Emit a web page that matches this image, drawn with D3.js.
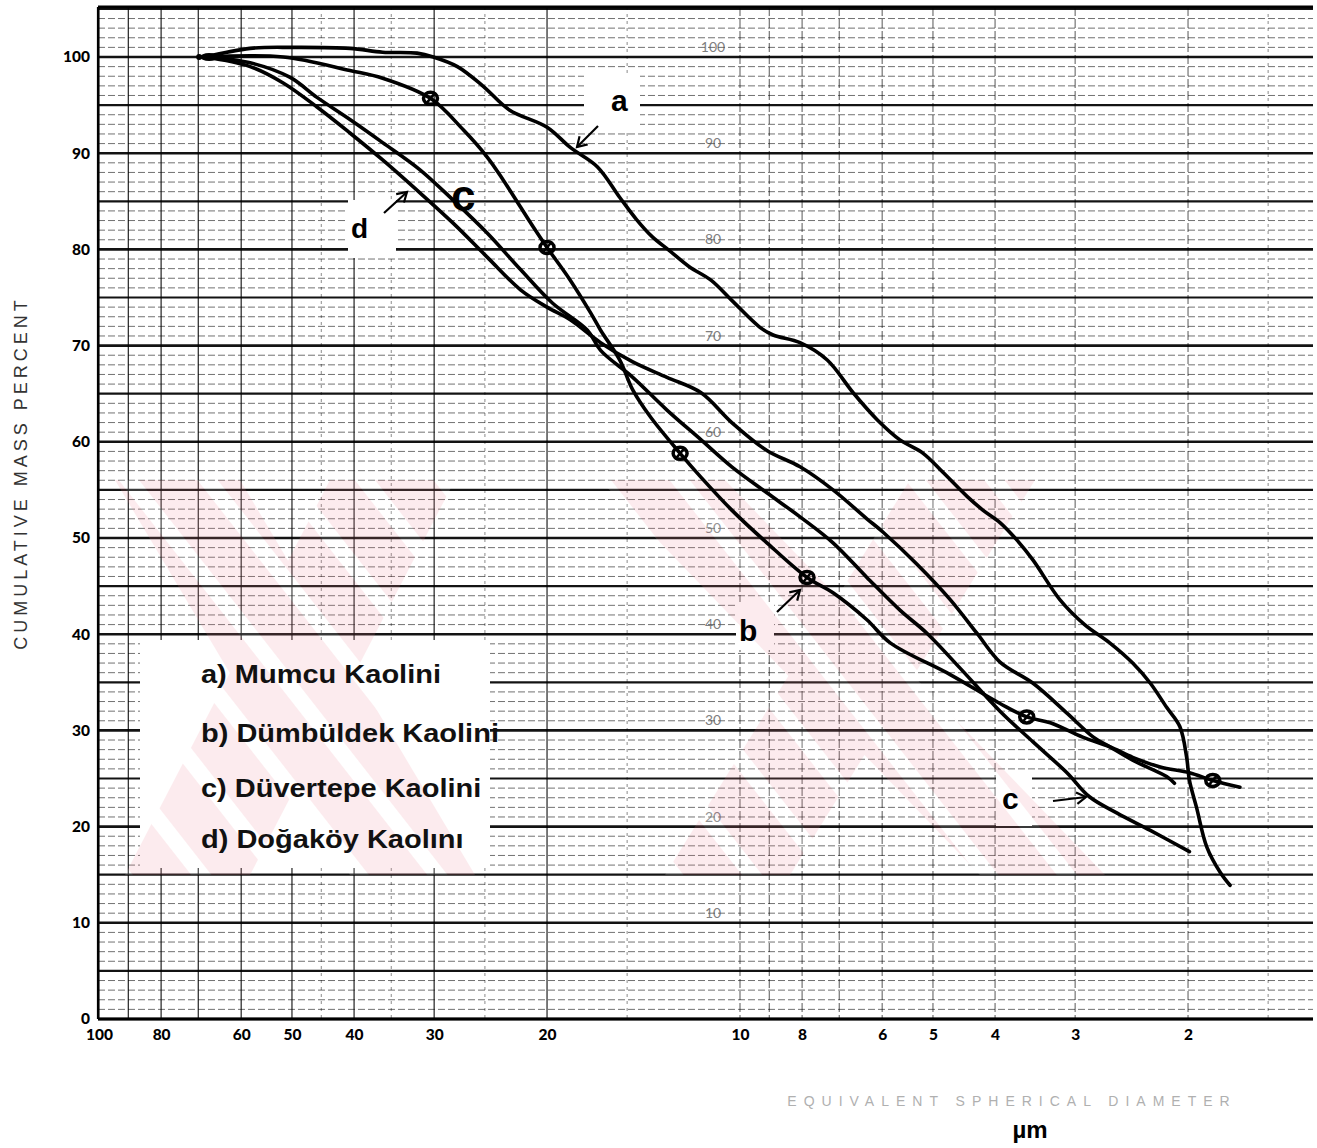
<!DOCTYPE html>
<html><head><meta charset="utf-8">
<script src="https://cdn.jsdelivr.net/npm/d3@7"></script>
<style>body{margin:0;background:#fff}svg{display:block}</style>
</head><body>
<svg id="chart" width="1317" height="1148"></svg>
<script>
// ---------------- DATA ----------------
const seriesKeys = ["a", "b", "c", "d"];
const seriesNames = ["a) Mumcu Kaolini", "b) Dümbüldek Kaolini", "c) Düvertepe Kaolini", "d) Doğaköy Kaolını"];

// equivalent spherical diameter (µm) and cumulative mass percent
const diamA = [68.3,58.1,49.8,40.6,36.1,31.9,30.1,27.6,25.2,22.9,20.0,18.4,16.7,15.4,14.5,13.7,12.9,12.0,11.1,10.3,9.31,8.88,8.06,7.31,6.66,6.11,5.63,5.18,4.82,4.42,4.18,3.93,3.70,3.49,3.17,2.90,2.65,2.44,2.29,2.16,2.06,2.01,1.99,1.94,1.87,1.78,1.72];
const massA = [100,100.9,101.0,100.9,100.5,100.4,100.0,99.0,97.0,94.5,92.7,90.6,88.6,85.4,83.1,81.3,79.9,78.2,76.8,74.7,71.9,71.1,70.3,68.5,65.1,62.3,60.2,58.8,56.8,54.3,52.9,51.6,49.8,47.7,43.6,41.0,39.1,37.0,34.9,32.4,30.4,27.2,24.8,22.0,17.9,15.2,13.9];

const diamB = [68.3,51.6,40.6,36.1,30.4,27.0,24.8,23.4,22.0,21.0,20.0,18.4,17.1,16.5,15.4,14.7,13.8,12.4,11.5,10.3,9.08,7.86,7.16,6.34,5.83,4.70,3.93,3.57,3.28,2.92,2.65,2.44,2.21,1.99,1.83,1.66];
const massB = [100,100,98.6,97.8,95.7,92.4,89.6,87.2,84.4,82.3,80.2,76.8,73.4,71.6,68.5,65.4,62.6,58.8,56.3,52.9,49.5,45.9,44.3,41.5,39.1,35.8,32.8,31.4,30.8,29.3,28.3,27.2,26.2,25.6,24.8,24.1];

const diamC = [68.3,58.1,50.4,45.7,40.6,36.1,31.6,28.0,24.8,22.0,19.6,17.3,16.5,14.7,13.0,11.5,10.3,9.08,8.06,7.16,6.34,5.63,5.11,4.54,3.93,3.49,3.09,2.85,2.58,2.29,1.99];
const massC = [100,99.4,97.9,95.8,93.5,91.1,88.3,85.1,81.7,77.9,74.4,71.6,69.5,66.7,63.3,60.2,57.4,54.7,52.2,49.5,45.9,42.5,40.1,36.5,32.0,28.8,25.6,23.1,21.4,19.6,17.4];

const diamD = [68.3,58.1,51.6,45.7,40.6,36.1,31.6,28.0,24.8,22.0,20.0,18.4,16.5,14.7,13.0,11.5,10.3,9.08,8.06,7.16,6.34,5.98,5.30,4.70,4.27,3.93,3.49,3.09,2.81,2.65,2.44,2.16,2.10];
const massD = [100,99.0,97.3,94.8,92.1,89.3,85.9,82.7,79.2,75.8,74.0,72.7,70.3,68.3,66.7,65.1,62.0,59.1,57.4,55.0,52.0,50.6,47.3,43.6,40.1,37.1,34.9,31.8,29.3,28.3,26.9,25.2,24.5];

// hand-drawn "ø" markers on curve b
const markerDiamB = [30.4, 20.0, 12.4, 7.86, 3.57, 1.83];
const markerMassB = [95.7, 80.2, 58.8, 45.9, 31.4, 24.8];

// tick labels
const xTickValues = [100, 80, 60, 50, 40, 30, 20, 10, 8, 6, 5, 4, 3, 2];
const yTickValues = [0, 10, 20, 30, 40, 50, 60, 70, 80, 90, 100];
const innerScaleValues = [100, 90, 80, 70, 60, 50, 40, 30, 20, 10];
const xGridMajor = [100, 90, 80, 70, 60, 50, 40, 30, 20, 10, 9, 8, 7, 6, 5, 4, 3, 2];
const xGridMinor = [45, 35, 25, 15, 1.5];

const yTitle = "CUMULATIVE MASS PERCENT";
const xTitle = "EQUIVALENT SPHERICAL DIAMETER";
const xUnit = "µm";

// ---------------- LAYOUT ----------------
const svg = d3.select("#chart");
const plotL = 98, plotR = 1313, plotT = 7, plotB = 1019;

const x = d3.scaleLog().domain([100, 10]).range([99, 740]);
const y = d3.scaleLinear().domain([0, 100]).range([1019, 57]);

// watermark stripe pattern
const defs = svg.append("defs");
const pat = defs.append("pattern").attr("id", "wm").attr("patternUnits", "userSpaceOnUse")
  .attr("width", 62).attr("height", 62).attr("patternTransform", "rotate(-38)");
pat.append("rect").attr("width", 62).attr("height", 62).attr("fill", "#f08898");
pat.append("rect").attr("x", 46).attr("width", 16).attr("height", 62).attr("fill", "#ffffff");

// ---------------- GRID ----------------
const grid = svg.append("g");
const yMax = y.invert(plotT);
const hVals = d3.range(0, Math.floor(yMax) + 1);
grid.selectAll("line.h").data(hVals).join("line")
  .attr("x1", plotL).attr("x2", plotR)
  .attr("y1", d => y(d)).attr("y2", d => y(d))
  .attr("stroke", "#000")
  .attr("stroke-width", d => d % 10 === 0 ? 2.6 : d % 5 === 0 ? 2.2 : 1)
  .attr("stroke-dasharray", d => d % 5 === 0 ? null : "7,3")
  .attr("opacity", d => d % 5 === 0 ? 0.92 : 0.55);

grid.selectAll("line.vmaj").data(xGridMajor).join("line")
  .attr("x1", d => x(d)).attr("x2", d => x(d))
  .attr("y1", plotT).attr("y2", plotB)
  .attr("stroke", "#000").attr("stroke-width", 1.3)
  .attr("opacity", d => d >= 20 ? 0.8 : 0.5)
  .attr("stroke-dasharray", d => d >= 20 ? null : "9,3");

grid.selectAll("line.vmin").data(xGridMinor).join("line")
  .attr("x1", d => x(d)).attr("x2", d => x(d))
  .attr("y1", plotT).attr("y2", plotB)
  .attr("stroke", "#000").attr("stroke-width", 1)
  .attr("stroke-dasharray", "3,4").attr("opacity", 0.45);

// borders
svg.append("line").attr("x1", plotL).attr("x2", plotR).attr("y1", plotT).attr("y2", plotT)
  .attr("stroke", "#000").attr("stroke-width", 3);
svg.append("line").attr("x1", plotL).attr("x2", plotR).attr("y1", plotB).attr("y2", plotB)
  .attr("stroke", "#000").attr("stroke-width", 3);
svg.append("line").attr("x1", plotL).attr("x2", plotL).attr("y1", plotT).attr("y2", plotB)
  .attr("stroke", "#000").attr("stroke-width", 2.2);

// faint inner scale labels
svg.append("g").selectAll("text").data(innerScaleValues).join("text")
  .attr("x", 713).attr("y", d => y(d) - 5)
  .attr("text-anchor", "middle")
  .attr("font-family", "Lato, sans-serif").attr("font-size", 14)
  .attr("fill", "#555").attr("opacity", 0.75)
  .text(d => d);

// ---------------- WHITE PATCHES (legend & labels) ----------------
const patches = svg.append("g").attr("fill", "#fff");
patches.append("rect").attr("x", 140).attr("y", 640).attr("width", 350).attr("height", 228);
patches.append("rect").attr("x", 584).attr("y", 74).attr("width", 56).attr("height", 58);
patches.append("rect").attr("x", 348).attr("y", 200).attr("width", 48).attr("height", 58);
patches.append("rect").attr("x", 736).attr("y", 602).attr("width", 38).attr("height", 48);
patches.append("rect").attr("x", 996).attr("y", 776).attr("width", 36).attr("height", 50);

// ---------------- WATERMARK ----------------
const wm = svg.append("g").attr("fill", "url(#wm)").attr("opacity", 0.16);
const wmShapes = [
  [[115,480],[240,480],[475,875],[350,875]],
  [[330,480],[455,480],[250,875],[125,875]],
  [[600,480],[725,480],[1105,875],[980,875]],
  [[910,480],[1035,480],[790,875],[665,875]]
];
wm.selectAll("path").data(wmShapes).join("path")
  .attr("d", d => "M" + d.join("L") + "Z");

// ---------------- CURVES ----------------
const seriesData = [
  d3.zip(diamA, massA), d3.zip(diamB, massB), d3.zip(diamC, massC), d3.zip(diamD, massD)
];
const line = d3.line().x(d => x(d[0])).y(d => y(d[1])).curve(d3.curveCatmullRom.alpha(0.5));
svg.append("g").selectAll("path").data(seriesData).join("path")
  .attr("d", line)
  .attr("fill", "none").attr("stroke", "#000")
  .attr("stroke-width", 3.6).attr("stroke-linejoin", "round").attr("stroke-linecap", "round");

// start blob
svg.append("ellipse").attr("cx", x(diamA[0]) + 4).attr("cy", y(100)).attr("rx", 9).attr("ry", 4).attr("fill", "#000");
svg.append("circle").attr("cx", x(diamA[0]) - 6).attr("cy", y(100)).attr("r", 3).attr("fill", "#000");

// markers on b
const mk = svg.append("g").selectAll("g").data(d3.zip(markerDiamB, markerMassB)).join("g")
  .attr("transform", d => `translate(${x(d[0])},${y(d[1])})`);
mk.append("ellipse").attr("rx", 7).attr("ry", 6).attr("fill", "none").attr("stroke", "#000").attr("stroke-width", 3.5);
mk.append("line").attr("x1", -5).attr("y1", 6).attr("x2", 5).attr("y2", -6).attr("stroke", "#000").attr("stroke-width", 2.5);

// ---------------- AXES ----------------
const yAxis = svg.append("g").attr("transform", `translate(${plotL},0)`)
  .call(d3.axisLeft(y).tickValues(yTickValues).tickSize(0).tickPadding(8));
yAxis.select(".domain").remove();
yAxis.selectAll("text").attr("font-family", "Lato, sans-serif").attr("font-weight", 900)
  .attr("font-size", 15.5).attr("fill", "#000");

const xAxis = svg.append("g").attr("transform", `translate(0,${plotB})`)
  .call(d3.axisBottom(x).tickValues(xTickValues).tickFormat(d3.format("d")).tickSize(0).tickPadding(10));
xAxis.select(".domain").remove();
xAxis.selectAll("text").attr("font-family", "Lato, sans-serif").attr("font-weight", 900)
  .attr("font-size", 15.5).attr("fill", "#000");

svg.append("text")
  .attr("transform", `translate(27,473) rotate(-90)`)
  .attr("text-anchor", "middle")
  .attr("font-family", "Liberation Sans, Arial, sans-serif").attr("font-size", 18)
  .attr("letter-spacing", 4).attr("fill", "#333")
  .text(yTitle);

svg.append("text").attr("x", 1012).attr("y", 1106).attr("text-anchor", "middle")
  .attr("font-family", "Liberation Sans, Arial, sans-serif").attr("font-size", 14)
  .attr("letter-spacing", 7).attr("fill", "#b0b0b0")
  .text(xTitle);
svg.append("text").attr("x", 1030).attr("y", 1138).attr("text-anchor", "middle")
  .attr("font-family", "Liberation Sans, Arial, sans-serif").attr("font-weight", "bold")
  .attr("font-size", 24).attr("fill", "#000")
  .text(xUnit);

// ---------------- LEGEND ----------------
const legendY = [683, 742, 797, 848];
svg.append("g").selectAll("text").data(seriesNames).join("text")
  .attr("transform", (d, i) => `translate(201,${legendY[i]}) scale(1.16,1)`)
  .attr("font-family", "Liberation Sans, Arial, sans-serif").attr("font-weight", "bold")
  .attr("font-size", 25).attr("fill", "#111")
  .text(d => d);

// ---------------- CURVE LABELS & ARROWS ----------------
const lbl = svg.append("g").attr("font-family", "Liberation Sans, Arial, sans-serif")
  .attr("font-weight", "bold").attr("fill", "#000");
lbl.append("text").attr("x", 611).attr("y", 111).attr("font-size", 30).text(seriesKeys[0]);
lbl.append("text").attr("x", 739).attr("y", 641).attr("font-size", 30).text(seriesKeys[1]);
lbl.append("text").attr("x", 451).attr("y", 211).attr("font-size", 44).text(seriesKeys[2]);
lbl.append("text").attr("x", 1002).attr("y", 809).attr("font-size", 30).text(seriesKeys[2]);
lbl.append("text").attr("x", 351).attr("y", 238).attr("font-size", 28).text(seriesKeys[3]);

function arrow(x1, y1, x2, y2) {
  const g = svg.append("g").attr("stroke", "#000").attr("stroke-width", 2.2).attr("fill", "none");
  g.append("line").attr("x1", x1).attr("y1", y1).attr("x2", x2).attr("y2", y2);
  const ang = Math.atan2(y2 - y1, x2 - x1), L = 11, s = 0.55;
  g.append("path").attr("d",
    `M${x2 - L * Math.cos(ang - s)},${y2 - L * Math.sin(ang - s)} L${x2},${y2} L${x2 - L * Math.cos(ang + s)},${y2 - L * Math.sin(ang + s)}`);
}
arrow(598, 126, 577, 147);
arrow(384, 213, 407, 192);
arrow(777, 612, 800, 590);
arrow(1053, 801, 1086, 797);
</script>
</body></html>
